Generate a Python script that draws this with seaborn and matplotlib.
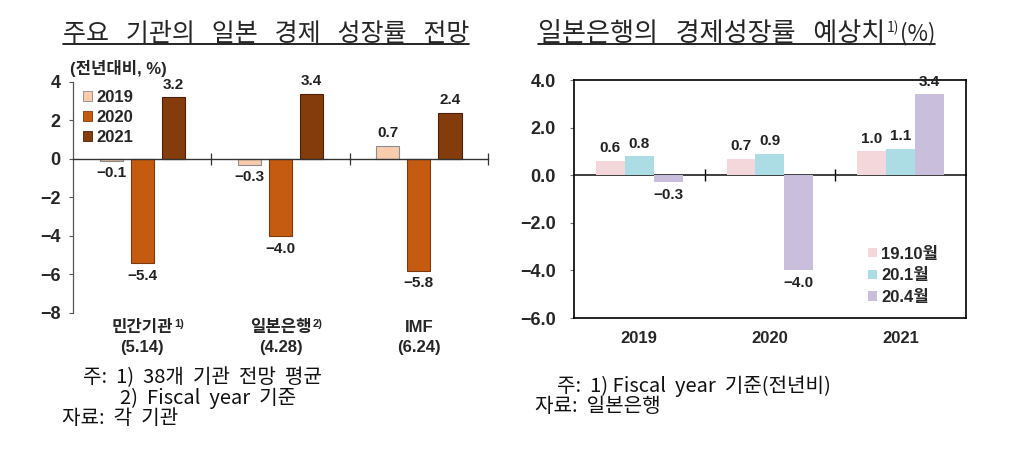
import matplotlib
matplotlib.use("Agg")
import matplotlib.pyplot as plt
import matplotlib.transforms as mtransforms
from matplotlib.lines import Line2D
import pandas as pd
import seaborn as sns

# ---------------- data ----------------
left_institutions = ["민간기관", "일본은행", "IMF"]
left_dates = ["(5.14)", "(4.28)", "(6.24)"]
left_superscripts = ["1)", "2)", ""]
left_years = ["2019", "2020", "2021"]
left_2019 = [-0.1, -0.3, 0.7]
left_2020 = [-5.4, -4.0, -5.8]
left_2021 = [3.2, 3.4, 2.4]
left_colors = ["#F8CBAD", "#C55A11", "#843C0C"]
left_edges = ["#8C8C8C", "#7A3A10", "#4A2008"]
left_yticks = [-8, -6, -4, -2, 0, 2, 4]

right_years = ["2019", "2020", "2021"]
right_vintages = ["19.10월", "20.1월", "20.4월"]
right_1910 = [0.6, 0.7, 1.0]
right_2001 = [0.8, 0.9, 1.1]
right_2004 = [-0.3, -4.0, 3.4]
right_colors = ["#F4D7DA", "#ACDDE4", "#C9BEDC"]
right_yticks = [-6.0, -4.0, -2.0, 0.0, 2.0, 4.0]

left_title = "주요   기관의   일본   경제   성장률   전망"
right_title = "일본은행의   경제성장률   예상치"
right_title_sup = "1)"
right_title_unit = "(%)"
left_ylabel = "(전년대비, %)"
left_notes = ["주:  1)  38개  기관  전망  평균", "2)  Fiscal  year  기준", "자료:  각  기관"]
right_notes = ["주:  1) Fiscal  year  기준(전년비)", "자료:  일본은행"]

# ---------------- style ----------------
sns.set_theme(style="white")
plt.rcParams["font.family"] = ["Liberation Sans", "Noto Sans CJK KR", "DejaVu Sans"]
plt.rcParams["axes.unicode_minus"] = True

fig = plt.figure(figsize=(10.24, 4.68), dpi=100)
axL = fig.add_axes([0.0713, 0.3312, 0.4053, 0.4936])
axR = fig.add_axes([0.5605, 0.3205, 0.3828, 0.5085])

def fmt(v):
    return f"{v:.1f}".replace("-", "\u2212")

# ---------------- left chart ----------------
dfL = pd.DataFrame({
    "inst": left_institutions * 3,
    "year": [y for y in left_years for _ in left_institutions],
    "value": left_2019 + left_2020 + left_2021,
})
sns.barplot(data=dfL, x="inst", y="value", hue="year", order=left_institutions,
            hue_order=left_years, palette=dict(zip(left_years, left_colors)),
            width=0.675, gap=0.26, saturation=1, errorbar=None, ax=axL)
for c, ec in zip(axL.containers, left_edges):
    for p in c:
        p.set_edgecolor(ec)
        p.set_linewidth(0.8)
    axL.bar_label(c, labels=[fmt(v) for v in c.datavalues], padding=4,
                  fontsize=11, fontweight="bold", color="#222222")

axL.set_xlim(-0.5, 2.5)
axL.set_ylim(-8, 4)
axL.set_yticks(left_yticks)
axL.set_yticklabels([str(t).replace("-", "\u2212") for t in left_yticks],
                    fontsize=13, fontweight="bold")
axL.set_xlabel("")
axL.set_ylabel("")
for s in ["top", "right"]:
    axL.spines[s].set_visible(False)
axL.spines["bottom"].set_position(("data", 0))
axL.spines["left"].set_color("#555555")
axL.spines["bottom"].set_color("#333333")
axL.spines["left"].set_linewidth(0.9)
axL.spines["bottom"].set_linewidth(1.0)
axL.tick_params(axis="y", left=True, direction="out", length=3, width=0.8,
                color="#555555", pad=6)
axL.set_xticks(range(len(left_institutions)))
axL.tick_params(axis="x", which="major", length=0, labelbottom=False)
axL.set_xticks([i + 0.5 for i in range(len(left_institutions))], minor=True)
axL.tick_params(axis="x", which="minor", bottom=True, direction="inout",
                length=9, width=0.9, color="#333333")

leg = axL.get_legend()
handles = leg.legend_handles
labels = [t.get_text() for t in leg.get_texts()]
leg.remove()
for h, ec in zip(handles, left_edges):
    h.set_edgecolor(ec)
    h.set_linewidth(0.6)
axL.legend(handles, labels, loc="upper left", bbox_to_anchor=(0.0, 1.01),
           frameon=False, handlelength=0.55, handleheight=0.55,
           handletextpad=0.25, labelspacing=0.3, borderaxespad=0.2,
           prop={"weight": "bold", "size": 12})

axL.text(-0.008, 1.06, left_ylabel, transform=axL.transAxes, ha="left",
         va="center", fontsize=12, fontweight="bold")

trL = mtransforms.blended_transform_factory(axL.transData, axL.transAxes)
for i, (inst, d, sup) in enumerate(zip(left_institutions, left_dates, left_superscripts)):
    t = axL.text(i, -0.03, inst + "\n" + d, transform=trL, ha="center",
                 va="top", fontsize=12, fontweight="bold", linespacing=1.4,
                 multialignment="center")
    if sup:
        axL.annotate(sup, xy=(1, 1), xycoords=t, xytext=(1, 1),
                     textcoords="offset points", ha="left", va="top",
                     fontsize=8, fontweight="bold")

# ---------------- right chart ----------------
dfR = pd.DataFrame({
    "year": right_years * 3,
    "vintage": [v for v in right_vintages for _ in right_years],
    "value": right_1910 + right_2001 + right_2004,
})
sns.barplot(data=dfR, x="year", y="value", hue="vintage", order=right_years,
            hue_order=right_vintages, palette=dict(zip(right_vintages, right_colors)),
            width=0.664, gap=0, saturation=1, errorbar=None, linewidth=0, ax=axR)
for c in axR.containers:
    axR.bar_label(c, labels=[fmt(v) for v in c.datavalues], padding=4,
                  fontsize=11, fontweight="bold", color="#222222")

axR.set_xlim(-0.5, 2.5)
axR.set_ylim(-6, 4)
axR.set_yticks(right_yticks)
axR.set_yticklabels([fmt(t) for t in right_yticks], fontsize=13, fontweight="bold")
axR.set_xlabel("")
axR.set_ylabel("")
for s in axR.spines.values():
    s.set_visible(True)
    s.set_color("black")
    s.set_linewidth(1.2)
axR.tick_params(axis="y", left=True, direction="out", length=3, width=0.8,
                color="#777777", pad=10)
axR.tick_params(axis="x", length=0, pad=9, labelsize=12)
for lab in axR.get_xticklabels():
    lab.set_fontweight("bold")

sec = axR.secondary_xaxis(0.6)
sec.set_xticks([i + 0.5 for i in range(len(right_years) - 1)])
sec.set_xticklabels([])
sec.tick_params(axis="x", direction="inout", length=9, width=1.0, color="black")
sec.spines["bottom"].set_color("black")
sec.spines["bottom"].set_linewidth(1.2)

leg = axR.get_legend()
handles = leg.legend_handles
labels = [t.get_text() for t in leg.get_texts()]
leg.remove()
for h in handles:
    h.set_edgecolor("none")
axR.legend(handles, labels, loc="upper left", bbox_to_anchor=(0.73, 0.335),
           frameon=False, handlelength=0.5, handleheight=0.5,
           handletextpad=0.25, labelspacing=0.4, borderaxespad=0.1,
           prop={"weight": "bold", "size": 12})

# ---------------- titles ----------------
kr = ["Noto Sans CJK KR"]
tL = fig.text(0.26, 0.928, left_title, ha="center", va="center", fontsize=18,
              family=kr)
tR = fig.text(0.5254, 0.928, right_title, ha="left", va="center", fontsize=18.8,
              family=kr)
supR = fig.text(0, 0, right_title_sup, fontsize=10, family=kr,
                ha="left", va="top")
pctR = fig.text(0, 0, right_title_unit, fontsize=16, family=kr,
                ha="left", va="center")

# ---------------- notes ----------------
note_kw = dict(fontsize=14.5, family=kr, color="#111111", va="center")
fig.text(83 / 1024, 1 - 378 / 468, left_notes[0], **note_kw)
fig.text(120 / 1024, 1 - 398 / 468, left_notes[1], **note_kw)
fig.text(62 / 1024, 1 - 419 / 468, left_notes[2], **note_kw)
fig.text(557 / 1024, 1 - 386 / 468, right_notes[0], **note_kw)
fig.text(535 / 1024, 1 - 407 / 468, right_notes[1], **note_kw)

# position superscript pieces and underline titles
fig.canvas.draw()
r = fig.canvas.get_renderer()
inv = fig.transFigure.inverted()
bR = tR.get_window_extent(r)
ymid = (bR.y0 + bR.y1) / 2
supR.set_position(tuple(inv.transform((bR.x1 + 1, ymid + 13))))
fig.canvas.draw()
bS = supR.get_window_extent(r)
pctR.set_position(tuple(inv.transform((bS.x1 + 1, ymid))))
fig.canvas.draw()
bP = pctR.get_window_extent(r)

def underline(x0, x1, yb):
    (fx0, fy), (fx1, _) = inv.transform([(x0, yb), (x1, yb)])
    fig.add_artist(Line2D([fx0, fx1], [fy, fy], transform=fig.transFigure,
                          color="black", linewidth=1.2))

bL = tL.get_window_extent(r)
underline(bL.x0, bL.x1, bL.y0 + 3)
underline(bR.x0, bP.x1, bR.y0 + 3)

fig.savefig("out.png", dpi=100)
